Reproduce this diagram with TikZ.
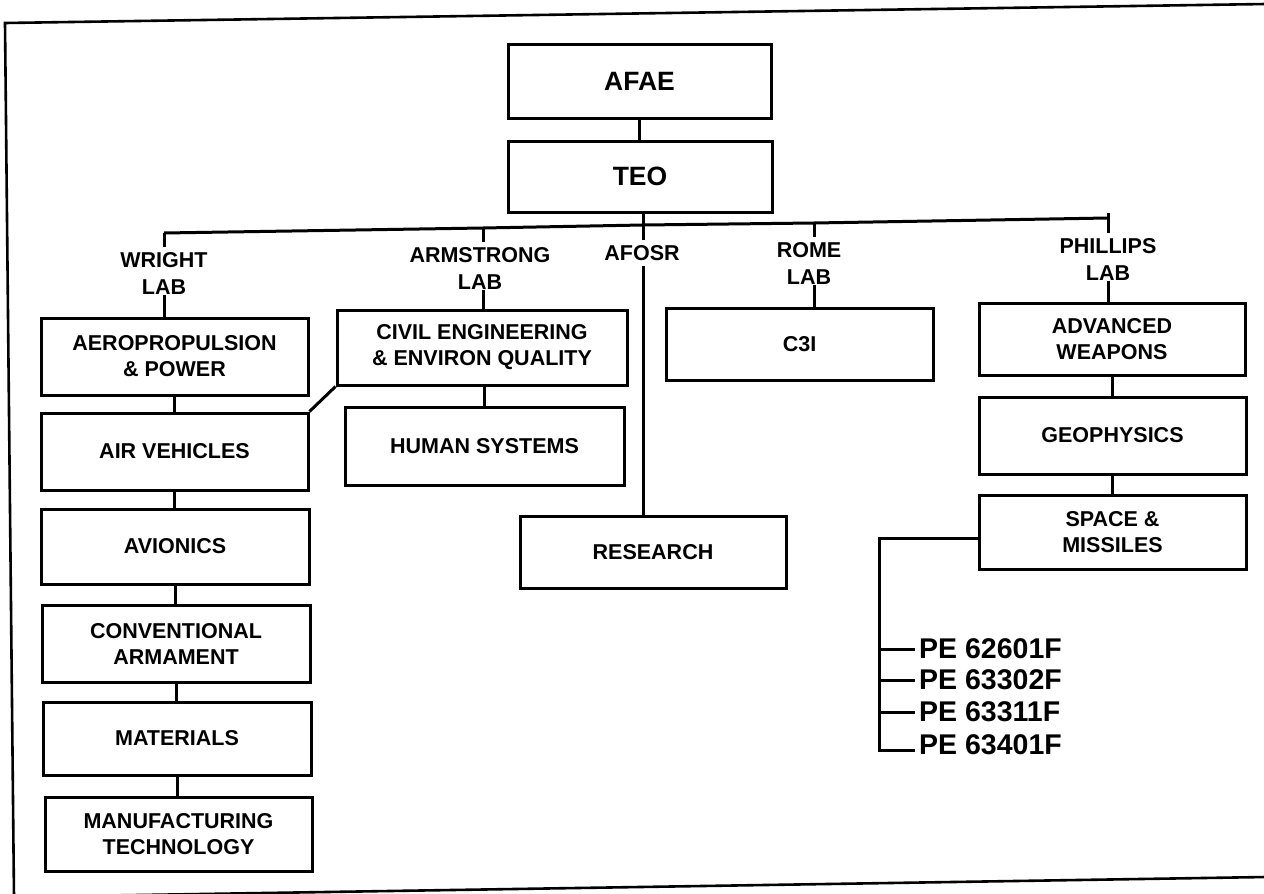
\documentclass[tikz,border=0pt]{standalone}
\usepackage{fontspec}
\setmainfont{Liberation Sans}
\begin{document}
\begin{tikzpicture}[x=1pt,y=-1pt,
  box/.style={draw, line width=3pt, inner sep=0pt, align=center,
    font=\fontsize{21.5}{26}\selectfont\bfseries},
  big/.style={font=\fontsize{26.5}{30}\selectfont\bfseries},
  lab/.style={inner sep=0pt, align=center,
    font=\fontsize{21.5}{27}\selectfont\bfseries},
  pe/.style={anchor=west, inner xsep=4pt, inner ysep=0pt,
    font=\fontsize{28.5}{32}\selectfont\bfseries},
  conn/.style={line width=3pt},
  frame/.style={line width=2.6pt}]
\useasboundingbox (0,0) rectangle (1264,894);
\clip (0,0) rectangle (1264,894);

% outer frame (scanned, slightly tilted)
\draw[frame] (1266,4) -- (5,23) -- (14,897) -- (1266,877);

% top
\node[box, big, minimum width=263pt, minimum height=74pt] (afae) at (639.5,81) {AFAE};
\node[box, big, minimum width=264pt, minimum height=71pt] (teo) at (640,176.5) {TEO};

% bus coordinates
\coordinate (bw) at (164,233);
\coordinate (ba) at (483,228);
\coordinate (bf) at (643,225);
\coordinate (br) at (814,223);
\coordinate (bp) at (1108,218);
\coordinate (bpt) at (1108,213);

% lab labels
\node[lab] (wright) at (164,273.5) {WRIGHT\\LAB};
\node[lab] (armstrong) at (480,268.5) {ARMSTRONG\\LAB};
\node[lab] (afosr) at (642,253) {AFOSR};
\node[lab] (rome) at (809,263.5) {ROME\\LAB};
\node[lab] (phillips) at (1108,259.5) {PHILLIPS\\LAB};

% Wright Lab column
\node[box, minimum width=267pt, minimum height=77pt] (aero) at (174.5,356.5) {AEROPROPULSION\\\& POWER};
\node[box, minimum width=267pt, minimum height=77pt] (air) at (174.5,451.5) {AIR VEHICLES};
\node[box, minimum width=268pt, minimum height=75pt] (avio) at (175,546.5) {AVIONICS};
\node[box, minimum width=268pt, minimum height=77pt] (conv) at (176,643.5) {CONVENTIONAL\\ARMAMENT};
\node[box, minimum width=268pt, minimum height=73pt] (mat) at (177,738.5) {MATERIALS};
\node[box, minimum width=267pt, minimum height=74pt] (manuf) at (178.5,834) {MANUFACTURING\\TECHNOLOGY};

% Armstrong Lab column
\node[box, minimum width=290pt, minimum height=75pt] (civil) at (482,347.5) {CIVIL ENGINEERING\\\& ENVIRON QUALITY};
\node[box, minimum width=279pt, minimum height=78pt] (human) at (484.5,446) {HUMAN SYSTEMS};

% AFOSR
\node[box, minimum width=266pt, minimum height=72pt] (research) at (653,552) {RESEARCH};

% Rome Lab
\node[box, minimum width=267pt, minimum height=72pt] (c3i) at (799.5,344) {C3I};

% Phillips Lab column
\node[box, minimum width=266pt, minimum height=72pt] (adv) at (1112,339) {ADVANCED\\WEAPONS};
\node[box, minimum width=267pt, minimum height=77pt] (geo) at (1112.5,435.5) {GEOPHYSICS};
\node[box, minimum width=267pt, minimum height=74pt] (space) at (1112.5,532) {SPACE \&\\MISSILES};

% program elements
\node[pe] (pe1) at (915,649) {PE 62601F};
\node[pe] (pe2) at (915,680) {PE 63302F};
\node[pe] (pe3) at (915,712) {PE 63311F};
\node[pe] (pe4) at (915,745) {PE 63401F};
\coordinate (hk) at (879,538);
\coordinate (pe4c) at ([yshift=-5pt]pe4.west);

% connectors: top
\draw[conn] (afae.south) -- (afae.south |- teo.north);
\draw[conn] (teo.south -| bf) -- (bf);
\draw[conn] (bw) -- (ba) -- (bf) -- (br) -- (bp);

% ticks down to labels
\draw[conn, shorten >=5pt] (bw) -- (bw |- wright.north);
\draw[conn, shorten >=5pt] (ba) -- (ba |- armstrong.north);
\draw[conn, shorten >=5pt] (bf) -- (bf |- afosr.north);
\draw[conn, shorten >=5pt] (br) -- (br |- rome.north);
\draw[conn, shorten >=5pt] (bpt) -- (bpt |- phillips.north);

% labels down to first boxes
\draw[conn] (bw |- wright.south) -- (bw |- aero.north);
\draw[conn] (ba |- armstrong.south) -- (ba |- civil.north);
\draw[conn, shorten <=5pt] (bf |- afosr.south) -- (bf |- research.north);
\draw[conn] (br |- rome.south) -- (br |- c3i.north);
\draw[conn] (bp |- phillips.south) -- (bp |- adv.north);

% Wright column chain
\draw[conn] (aero.south) -- (aero.south |- air.north);
\draw[conn] (air.south) -- (air.south |- avio.north);
\draw[conn] (avio.south) -- (avio.south |- conv.north);
\draw[conn] (conv.south) -- (conv.south |- mat.north);
\draw[conn] (mat.south) -- (mat.south |- manuf.north);

% Armstrong chain
\draw[conn] (civil.south -| human.north) -- (human.north);
\draw[conn] (civil.south west) -- (air.north east);

% Phillips chain
\draw[conn] (adv.south) -- (adv.south |- geo.north);
\draw[conn] (geo.south) -- (geo.south |- space.north);

% program element bracket
\draw[conn] (space.west |- hk) -- (hk) -- (hk |- pe4c) -- (pe4c);
\draw[conn] (hk |- pe1.west) -- (pe1.west);
\draw[conn] (hk |- pe2.west) -- (pe2.west);
\draw[conn] (hk |- pe3.west) -- (pe3.west);
\end{tikzpicture}
\end{document}
